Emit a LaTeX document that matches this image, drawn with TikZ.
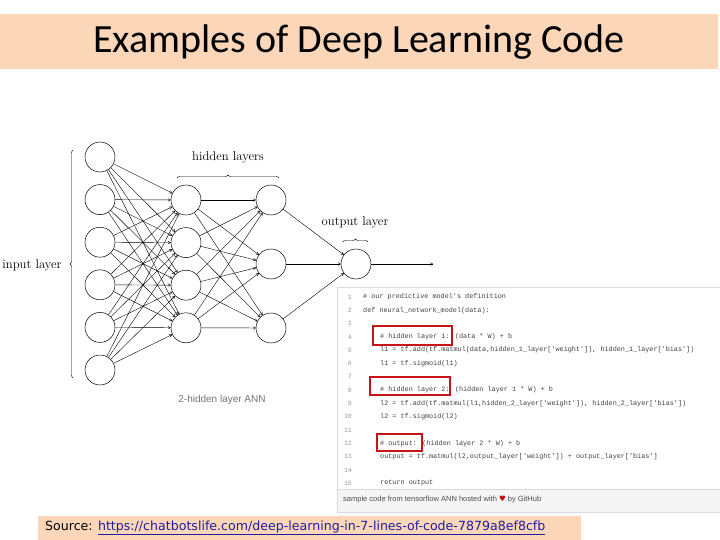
\documentclass[tikz,border=0pt]{standalone}
\usepackage{fontspec}
\newfontfamily\titlefont{Carlito}
\newfontfamily\codefont{Liberation Mono}
\newfontfamily\uifont{Liberation Sans}
\newfontfamily\srcfont{DejaVu Sans}
\usetikzlibrary{decorations.pathreplacing,arrows.meta}
\definecolor{peach}{RGB}{251,214,184}
\definecolor{linkblue}{RGB}{30,30,160}
\definecolor{boxred}{RGB}{200,20,25}
\tikzset{
  neuron/.style={draw,circle,minimum size=30pt,inner sep=0pt,line width=0.5pt},
  wire/.style={-{To[length=3pt,width=3pt]},line width=0.4pt},
  lbl/.style={font=\fontsize{12.7}{13}\selectfont},
  codeline/.style={anchor=west,inner sep=0pt,text=black!75,font=\codefont\fontsize{6.8}{7}\selectfont},
  lineno/.style={anchor=east,inner sep=0pt,text=black!40,font=\codefont\fontsize{6.5}{7}\selectfont},
  redbox/.style={draw=boxred,line width=2.5pt},
  brc/.style={decorate,decoration={brace,amplitude=3pt},line width=0.4pt}
}
\begin{document}
\begin{tikzpicture}[x=1pt,y=-1pt]
\useasboundingbox (0,0) rectangle (720,540);
% title bar
\fill[peach] (0,14) rectangle (718,69);
\node (title) at (359,42) {\titlefont\fontsize{40}{40}\selectfont Examples of Deep Learning Code};
% network
\foreach \k in {1,...,6}
  \node[neuron] (i\k) at (100,{157+42.6*(\k-1)}) {};
\foreach \k in {1,...,4}
  \node[neuron] (h\k) at (186,{200+42.6*(\k-1)}) {};
\foreach \k in {1,...,3}
  \node[neuron] (g\k) at (271,{200+64*(\k-1)}) {};
\node[neuron] (o) at (356,264) {};
\coordinate (out) at (433,264);
\foreach \a in {1,...,6}
  \foreach \b in {1,...,4}
    \draw[wire] (i\a) -- (h\b);
\foreach \a in {1,...,4}
  \foreach \b in {1,...,3}
    \draw[wire] (h\a) -- (g\b);
\foreach \a in {1,...,3}
  \draw[wire] (g\a) -- (o);
\draw[wire] (o) -- (out);
% braces and labels
\draw[brc] (73,378) -- (73,150);
\draw[brc] (177,178) -- (279,178);
\draw[brc] (343,242) -- (368,242);
\node[lbl] (inlbl) at (32,265) {input layer};
\node[lbl] (hidlbl) at (228,157) {hidden layers};
\node[lbl] (outlbl) at (355,222) {output layer};
\node[text=black!55,font=\uifont\fontsize{10}{11}\selectfont] (annlbl) at (222,400) {2-hidden layer ANN};
% code box
\fill[black!4] (337,489) rectangle (721,512);
\draw[black!15] (337,287) rectangle (721,512);
\draw[black!15] (337,489) -- (721,489);
\foreach \n in {1,...,15}
  \node[lineno] (n\n) at (352,{297+13.3*(\n-1)}) {\n};
\node[codeline] (c1) at (363,297) {\# our predictive model's definition};
\node[codeline] (c2) at (363,310.3) {def neural\_network\_model(data):};
\node[codeline] (c4) at (380,337) {\# hidden layer 1: (data * W) + b};
\node[codeline] (c5) at (380,350.2) {l1 = tf.add(tf.matmul(data,hidden\_1\_layer['weight']), hidden\_1\_layer['bias'])};
\node[codeline] (c6) at (380,363.5) {l1 = tf.sigmoid(l1)};
\node[codeline] (c8) at (380,390) {\# hidden layer 2: (hidden layer 1 * W) + b};
\node[codeline] (c9) at (380,403.4) {l2 = tf.add(tf.matmul(l1,hidden\_2\_layer['weight']), hidden\_2\_layer['bias'])};
\node[codeline] (c10) at (380,416.7) {l2 = tf.sigmoid(l2)};
\node[codeline] (c12) at (380,443.3) {\# output: (hidden layer 2 * W) + b};
\node[codeline] (c13) at (380,456.6) {output = tf.matmul(l2,output\_layer['weight']) + output\_layer['bias']};
\node[codeline] (c15) at (380,483.2) {return output};
\draw[redbox] (373,326) rectangle (452,345);
\draw[redbox] (370,377) rectangle (450,395);
\draw[redbox] (377,434) rectangle (422,451);
\node[anchor=west,inner sep=0pt,text=black!70,font=\uifont\fontsize{7.5}{8}\selectfont] (foot) at (343,500)
  {sample code from tensorflow ANN hosted with {\srcfont\color{red!80!black}♥} by GitHub};
% source bar
\fill[peach] (38,516) rectangle (581,540);
\node[anchor=west,inner sep=0pt,font=\srcfont\fontsize{12.6}{14}\selectfont] (src) at (45,528)
  {Source: \textcolor{linkblue}{\underline{https://chatbotslife.com/deep-learning-in-7-lines-of-code-7879a8ef8cfb}}};
\end{tikzpicture}
\end{document}
